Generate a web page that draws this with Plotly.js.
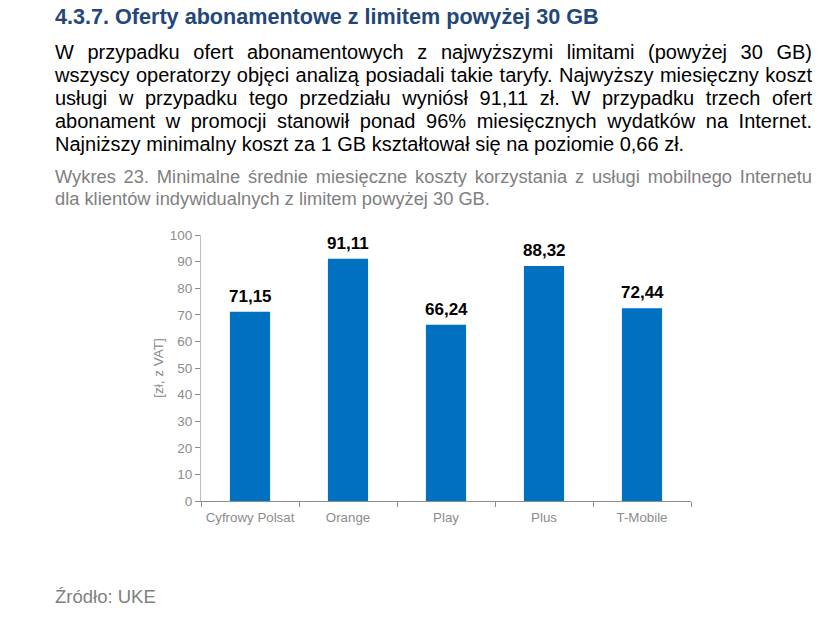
<!DOCTYPE html>
<html>
<head>
<meta charset="utf-8">
<script src="https://cdn.plot.ly/plotly-3.0.1.min.js"></script>
<style>
  html, body { margin:0; padding:0; background:#fff; }
  #wrap { position:relative; width:836px; height:633px; overflow:hidden; }
  #chart { position:absolute; left:0; top:0; width:836px; height:633px; }
  .txt { position:absolute; left:55px; width:757px; font-family:"Liberation Sans",Arial,sans-serif; }
  .ln { text-align:justify; text-align-last:justify; white-space:normal; }
  .last { text-align:left; text-align-last:left; }
  #head { top:4px; font-weight:bold; font-size:21.6px; color:#24477A; line-height:26px; }
  #para { top:41px; font-size:20px; color:#000; line-height:23px; }
  #cap { top:166px; font-size:18.3px; color:#808080; line-height:22px; }
  #src { top:586px; font-size:18.5px; color:#7f7f7f; }
</style>
</head>
<body>
<div id="wrap">
  <div id="chart"></div>
  <div class="txt" id="head">4.3.7. Oferty abonamentowe z limitem powyżej 30 GB</div>
  <div class="txt" id="para"></div>
  <div class="txt" id="cap"></div>
  <div class="txt" id="src">Źródło: UKE</div>
</div>
<script>
const paragraphLines = [
  "W przypadku ofert abonamentowych z najwyższymi limitami (powyżej 30 GB)",
  "wszyscy operatorzy objęci analizą posiadali takie taryfy. Najwyższy miesięczny koszt",
  "usługi w przypadku tego przedziału wyniósł 91,11 zł. W przypadku trzech ofert",
  "abonament w promocji stanowił ponad 96% miesięcznych wydatków na Internet.",
  "Najniższy minimalny koszt za 1 GB kształtował się na poziomie 0,66 zł."
];
const captionLines = [
  "Wykres 23. Minimalne średnie miesięczne koszty korzystania z usługi mobilnego Internetu",
  "dla klientów indywidualnych z limitem powyżej 30 GB."
];
const operators = ["Cyfrowy Polsat", "Orange", "Play", "Plus", "T-Mobile"];
const costs = [71.15, 91.11, 66.24, 88.32, 72.44];
const costLabels = ["71,15", "91,11", "66,24", "88,32", "72,44"];
const yTicks = [0, 10, 20, 30, 40, 50, 60, 70, 80, 90, 100];
const yAxisTitle = "[zł, z VAT]";

function fillLines(id, lines) {
  const el = document.getElementById(id);
  lines.forEach((t, i) => {
    const d = document.createElement('div');
    d.className = 'ln' + (i === lines.length - 1 ? ' last' : '');
    d.textContent = t;
    el.appendChild(d);
  });
}
fillLines('para', paragraphLines);
fillLines('cap', captionLines);

const trace = {
  type: 'bar',
  x: operators,
  y: costs,
  marker: { color: '#0070C0' },
  hoverinfo: 'none'
};
const annotations = operators.map((op, i) => ({
  x: op, y: costs[i], xref: 'x', yref: 'y',
  text: '<b>' + costLabels[i] + '</b>',
  showarrow: false, yanchor: 'bottom', xanchor: 'center', yshift: 4,
  font: { family: 'Liberation Sans, Arial, sans-serif', size: 17, color: '#000' }
}));
const layout = {
  width: 836, height: 633,
  margin: { l: 201, r: 145, t: 235, b: 132, pad: 0 },
  paper_bgcolor: '#fff', plot_bgcolor: '#fff',
  showlegend: false,
  bargap: 0.59,
  annotations: annotations,
  font: { family: 'Liberation Sans, Arial, sans-serif', color: '#8c8c8c', size: 13 },
  xaxis: {
    type: 'category',
    showline: true, linecolor: '#8c8c8c', linewidth: 1,
    ticks: 'outside', ticklen: 5, tickcolor: '#8c8c8c', tickson: 'boundaries',
    ticklabelstandoff: 4,
    showgrid: false, zeroline: false,
    tickfont: { size: 13.3, color: '#8c8c8c' }
  },
  yaxis: {
    range: [0, 100],
    tickvals: yTicks,
    showline: true, linecolor: '#bfbfbf', linewidth: 1,
    ticks: 'outside', ticklen: 5, tickcolor: '#8c8c8c',
    showgrid: false, zeroline: false,
    tickfont: { size: 13.5, color: '#8c8c8c' },
    title: { text: yAxisTitle, font: { size: 13.5, color: '#8c8c8c' }, standoff: 3 }
  }
};
Plotly.newPlot('chart', [trace], layout, { displayModeBar: false, staticPlot: true });
</script>
</body>
</html>
